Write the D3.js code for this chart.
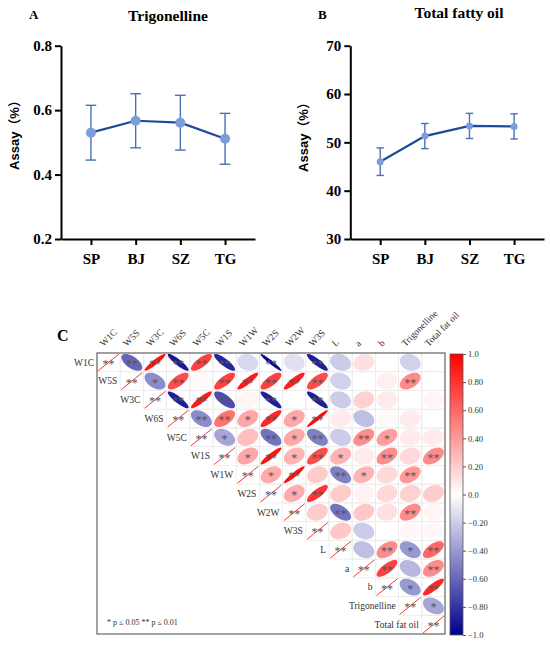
<!DOCTYPE html>
<html>
<head>
<meta charset="utf-8">
<script src="https://cdn.jsdelivr.net/npm/d3@7"></script>
<style>
body { margin: 0; background: #fff; }
</style>
</head>
<body>
<div id="chart"></div>
<script>
const WIDTH = 550;
const HEIGHT = 647;

// datos paneles A y B
const sites = ["SP", "BJ", "SZ", "TG"];
const trigMean = [0.530, 0.567, 0.561, 0.511];
const trigSD = [0.085, 0.084, 0.085, 0.079];
const oilMean = [46.0, 51.3, 53.4, 53.3];
const oilSD = [2.85, 2.6, 2.6, 2.6];
const trigTicks = [0.2, 0.4, 0.6, 0.8];
const oilTicks = [30, 40, 50, 60, 70];

// matriz de correlacion (triangulo superior, sin diagonal)
const variables = ["W1C", "W5S", "W3C", "W6S", "W5C", "W1S", "W1W", "W2S", "W2W", "W3S",
  "L", "a", "b", "Trigonelline", "Total fat oil"];
const corrRows = [
  [-0.6, 0.93, -0.9, 0.75, -0.85, -0.15, -0.96, -0.12, -0.88, -0.2, 0.12, 0.0, -0.18, 0.0],
  [-0.45, 0.7, 0.02, 0.75, 0.9, 0.75, 0.88, 0.7, -0.18, 0.0, 0.06, 0.45, 0.0],
  [-0.88, 0.9, -0.7, 0.04, -0.88, 0.0, -0.88, -0.2, 0.18, 0.08, 0.0, 0.03],
  [-0.45, 0.55, 0.35, 0.85, 0.35, 0.96, 0.08, -0.25, 0.02, 0.08, 0.0],
  [-0.35, 0.25, -0.55, 0.35, -0.5, -0.2, 0.45, 0.38, 0.08, 0.08],
  [0.35, 0.92, 0.3, 0.7, 0.3, 0.08, 0.45, 0.15, 0.45],
  [0.33, 0.94, 0.2, -0.5, 0.3, 0.15, 0.4, 0.0],
  [0.33, 0.8, 0.2, 0.05, 0.15, 0.18, 0.2],
  [0.2, -0.55, 0.22, 0.12, 0.45, 0.04],
  [0.22, -0.2, 0.0, 0.03, 0.03],
  [-0.25, 0.45, -0.4, 0.6],
  [0.75, -0.28, 0.45],
  [-0.4, 0.85],
  [-0.35],
  []
];
const sigRows = [
  ["**", "**", "**", "**", "**", "", "**", "", "**", "", "", "", "", ""],
  ["*", "**", "", "**", "**", "**", "**", "**", "", "", "", "**", ""],
  ["**", "**", "**", "", "**", "", "**", "", "", "", "", ""],
  ["**", "**", "*", "**", "*", "**", "", "", "", "", ""],
  ["*", "", "**", "*", "**", "", "**", "*", "", ""],
  ["*", "**", "*", "**", "*", "", "**", "", "**"],
  ["*", "**", "", "**", "*", "", "**", ""],
  ["*", "**", "", "", "", "", ""],
  ["", "**", "", "", "**", ""],
  ["", "", "", "", ""],
  ["", "**", "*", "**"],
  ["**", "", "**"],
  ["*", "**"],
  ["*"],
  []
];
const colorbarTicks = [1, 0.8, 0.6, 0.4, 0.2, 0, -0.2, -0.4, -0.6, -0.8, -1];

const SVG = d3.select("#chart").append("svg")
  .attr("width", WIDTH).attr("height", HEIGHT)
  .style("display", "block");

const SERIF = "'Liberation Serif', 'Times New Roman', serif";
const SANS = "'Liberation Sans', Arial, 'Noto Sans CJK SC', sans-serif";

function panelLinea(cfg) {
  const g = SVG.append("g");
  const x = d3.scalePoint().domain(sites).range([cfg.x0, cfg.x1]).padding(0.67);
  const y = d3.scaleLinear().domain(cfg.domain).range([239, 45.7]);
  const datos = sites.map((s, i) => ({ sitio: s, media: cfg.mean[i], sd: cfg.sd[i] }));

  const ejeY = g.append("g")
    .attr("transform", `translate(${cfg.x0},0)`)
    .call(d3.axisLeft(y).tickValues(cfg.ticks).tickFormat(cfg.fmt).tickSize(6).tickPadding(3).tickSizeOuter(0));
  const ejeX = g.append("g")
    .attr("transform", "translate(0,239)")
    .call(d3.axisBottom(x).tickSize(6).tickPadding(8).tickSizeOuter(0));

  [ejeY, ejeX].forEach(eje => {
    eje.selectAll("path, line").attr("stroke", "#000").attr("stroke-width", 2);
    eje.selectAll("text")
      .attr("fill", "#000")
      .style("font-family", SERIF)
      .style("font-weight", "bold")
      .style("font-size", "15px");
  });

  // barras de error
  const err = g.selectAll(".err").data(datos).join("g").attr("class", "err")
    .attr("stroke", "#4a70b5").attr("stroke-width", 1.4);
  err.append("line")
    .attr("x1", d => x(d.sitio)).attr("x2", d => x(d.sitio))
    .attr("y1", d => y(d.media - d.sd)).attr("y2", d => y(d.media + d.sd));
  err.append("line")
    .attr("x1", d => x(d.sitio) - cfg.cap).attr("x2", d => x(d.sitio) + cfg.cap)
    .attr("y1", d => y(d.media + d.sd)).attr("y2", d => y(d.media + d.sd));
  err.append("line")
    .attr("x1", d => x(d.sitio) - cfg.cap).attr("x2", d => x(d.sitio) + cfg.cap)
    .attr("y1", d => y(d.media - d.sd)).attr("y2", d => y(d.media - d.sd));

  g.append("path")
    .datum(datos)
    .attr("fill", "none")
    .attr("stroke", "#1d4a9a")
    .attr("stroke-width", 2.2)
    .attr("d", d3.line().x(d => x(d.sitio)).y(d => y(d.media)));

  g.selectAll(".punto").data(datos).join("circle")
    .attr("class", "punto")
    .attr("cx", d => x(d.sitio)).attr("cy", d => y(d.media))
    .attr("r", cfg.r)
    .attr("fill", "#7b9edb");

  g.append("text")
    .attr("x", cfg.letraX).attr("y", 18.5)
    .style("font-family", SERIF).style("font-weight", "bold").style("font-size", "13px")
    .text(cfg.letra);
  g.append("text")
    .attr("x", cfg.tituloX).attr("y", cfg.tituloY)
    .attr("text-anchor", "middle")
    .style("font-family", SERIF).style("font-weight", "bold").style("font-size", "15.5px")
    .text(cfg.titulo);
  g.append("text")
    .attr("transform", `translate(${cfg.labelX},${cfg.labelY}) rotate(-90)`)
    .attr("text-anchor", "middle")
    .attr("dy", "0.35em")
    .style("font-family", SANS).style("font-weight", "bold").style("font-size", "13px")
    .text("Assay（%）");
}

panelLinea({
  x0: 61, x1: 255, domain: [0.2, 0.8], ticks: trigTicks, fmt: d3.format(".1f"),
  mean: trigMean, sd: trigSD, cap: 5.3, r: 5,
  letra: "A", letraX: 29, titulo: "Trigonelline", tituloX: 168, tituloY: 20.5,
  labelX: 14, labelY: 132
});
panelLinea({
  x0: 350.3, x1: 544, domain: [30, 70], ticks: oilTicks, fmt: d3.format("d"),
  mean: oilMean, sd: oilSD, cap: 3.7, r: 3.5,
  letra: "B", letraX: 318, titulo: "Total fatty oil", tituloX: 459, tituloY: 17.5,
  labelX: 303, labelY: 134
});

// panel C
const C = SVG.append("g");
const xC = d3.scaleBand().domain(variables).range([97, 445]);
const yC = d3.scaleBand().domain(variables).range([353, 634]);
const bw = xC.bandwidth(), bh = yC.bandwidth();
const color = d3.scaleLinear().domain([-1, 0, 1]).range(["#00008B", "#ffffff", "#ff0000"]);

const celdas = [];
corrRows.forEach((fila, i) => {
  fila.forEach((r, k) => {
    celdas.push({ fila: variables[i], col: variables[i + 1 + k], r: r, sig: sigRows[i][k] });
  });
});
const diagonal = variables.map(v => ({ fila: v, col: v, r: 1, sig: "**" }));

// rejilla
C.selectAll(".rej").data(celdas.concat(diagonal)).join("rect")
  .attr("class", "rej")
  .attr("x", d => xC(d.col)).attr("y", d => yC(d.fila))
  .attr("width", bw).attr("height", bh)
  .attr("fill", "none").attr("stroke", "#ebebeb").attr("stroke-width", 0.8);

function elipse(r, cx, cy) {
  const dd = Math.acos(Math.max(-1, Math.min(1, r)));
  const pts = d3.range(0, 61).map(k => {
    const t = k / 60 * 2 * Math.PI;
    return [cx + Math.cos(t + dd / 2) * 0.45 * bw, cy - Math.cos(t - dd / 2) * 0.45 * bh];
  });
  return d3.line()(pts) + "Z";
}

C.selectAll(".elipse").data(celdas).join("path")
  .attr("class", "elipse")
  .attr("d", d => elipse(d.r, xC(d.col) + bw / 2, yC(d.fila) + bh / 2))
  .attr("fill", d => color(d.r));

C.selectAll(".diag").data(diagonal).join("line")
  .attr("class", "diag")
  .attr("x1", d => xC(d.col) + bw / 2 - 0.45 * bw).attr("y1", d => yC(d.fila) + bh / 2 + 0.45 * bh)
  .attr("x2", d => xC(d.col) + bw / 2 + 0.45 * bw).attr("y2", d => yC(d.fila) + bh / 2 - 0.45 * bh)
  .attr("stroke", "#ff2020").attr("stroke-width", 0.9);

C.selectAll(".sig").data(celdas.concat(diagonal).filter(d => d.sig)).join("text")
  .attr("class", "sig")
  .attr("x", d => xC(d.col) + bw / 2)
  .attr("y", d => yC(d.fila) + bh / 2 + 5.5)
  .attr("text-anchor", "middle")
  .attr("fill", "#555")
  .style("font-family", SERIF).style("font-size", "12px")
  .text(d => d.sig);

// etiquetas de filas y columnas
C.selectAll(".etqFila").data(variables).join("text")
  .attr("class", "etqFila")
  .attr("x", d => xC(d) - 3)
  .attr("y", d => yC(d) + bh / 2)
  .attr("dy", "0.35em")
  .attr("text-anchor", "end")
  .attr("fill", "#333")
  .style("font-family", SERIF).style("font-size", "9.5px")
  .text(d => d);

C.selectAll(".etqCol").data(variables).join("text")
  .attr("class", "etqCol")
  .attr("transform", d => `translate(${xC(d) + bw / 2 - 5},347) rotate(-45)`)
  .attr("fill", "#333")
  .style("font-family", SERIF).style("font-size", "9.5px")
  .text(d => d);

C.append("rect")
  .attr("x", 97).attr("y", 353).attr("width", 348).attr("height", 281)
  .attr("fill", "none").attr("stroke", "#666").attr("stroke-width", 1.2);

C.append("text")
  .attr("x", 107).attr("y", 625)
  .attr("fill", "#333")
  .style("font-family", SERIF).style("font-size", "8px")
  .text("* p ≤ 0.05  ** p ≤ 0.01");

C.append("text")
  .attr("x", 57).attr("y", 341)
  .style("font-family", SERIF).style("font-weight", "bold").style("font-size", "16px")
  .text("C");

// barra de color
const cEsc = d3.scaleLinear().domain([-1, 1]).range([635, 354]);
const grad = SVG.append("defs").append("linearGradient")
  .attr("id", "gradCorr").attr("x1", 0).attr("y1", 1).attr("x2", 0).attr("y2", 0);
grad.selectAll("stop").data(d3.range(-1, 1.001, 0.1)).join("stop")
  .attr("offset", d => (d + 1) / 2)
  .attr("stop-color", d => color(d));

C.append("rect")
  .attr("x", 450).attr("y", 354).attr("width", 13).attr("height", 281)
  .attr("fill", "url(#gradCorr)").attr("stroke", "#555").attr("stroke-width", 0.8);

const ejeColor = C.append("g")
  .attr("transform", "translate(463,0)")
  .call(d3.axisRight(cEsc).tickValues(colorbarTicks).tickSize(3).tickPadding(2)
    .tickFormat(v => (v === 0 || Math.abs(v) === 1) ? d3.format(".1f")(v) : d3.format(".2f")(v)));
ejeColor.select(".domain").remove();
ejeColor.selectAll("line").attr("stroke", "#555");
ejeColor.selectAll("text").attr("fill", "#333")
  .style("font-family", SERIF).style("font-size", "8.5px");
</script>
</body>
</html>
